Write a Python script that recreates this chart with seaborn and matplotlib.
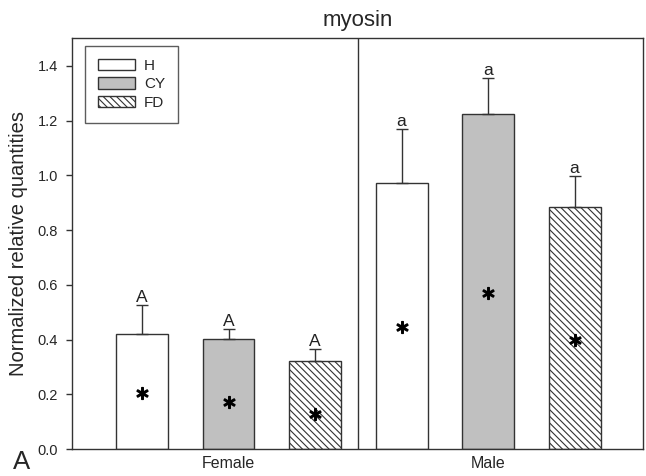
import numpy as np
import pandas as pd
import matplotlib
matplotlib.use("Agg")
import matplotlib.pyplot as plt
from matplotlib.patches import Patch
import seaborn as sns

# ---- data ----
sexes = ["Female", "Male"]
groups = ["H", "CY", "FD"]
female_means = [0.419, 0.402, 0.320]
male_means = [0.971, 1.224, 0.886]
female_err = [0.107, 0.037, 0.044]
male_err = [0.197, 0.131, 0.112]
female_letters = ["A", "A", "A"]
male_letters = ["a", "a", "a"]
female_star_y = [0.206, 0.173, 0.127]
male_star_y = [0.447, 0.569, 0.398]
yticks = [0.0, 0.2, 0.4, 0.6, 0.8, 1.0, 1.2, 1.4]

sns.set_theme(style="white")
plt.rcParams["font.family"] = ["Liberation Sans", "DejaVu Sans"]
plt.rcParams["hatch.linewidth"] = 0.8
plt.rcParams["hatch.color"] = "#222222"

rows = []
for sex, means in zip(sexes, [female_means, male_means]):
    for g, m in zip(groups, means):
        rows.append({"sex": sex, "group": g, "value": m})
df = pd.DataFrame(rows)

fig = plt.figure(figsize=(6.46, 4.76), dpi=100)
ax = fig.add_axes([0.1115, 0.0567, 0.9954 - 0.1115, 0.920 - 0.0567])

edge = "#333333"
colors = ["white", "#c0c0c0", "white"]
sns.barplot(data=df, x="sex", y="value", hue="group", order=sexes,
            hue_order=groups, palette=colors, edgecolor=edge, linewidth=1.0,
            width=1.0, gap=0.4, errorbar=None, legend=False, ax=ax,
            saturation=1)

bar_conts = list(ax.containers)
for bar in bar_conts[2]:
    bar.set_hatch("\\\\\\\\\\")

errs = {"Female": female_err, "Male": male_err}
letters = {"Female": female_letters, "Male": male_letters}
stars = {"Female": female_star_y, "Male": male_star_y}

for gi, cont in enumerate(bar_conts):
    for si, bar in enumerate(cont):
        sex = sexes[si]
        x = bar.get_x() + bar.get_width() / 2
        top = bar.get_height()
        e = errs[sex][gi]
        ax.errorbar([x], [top], yerr=[[0], [e]], fmt="none", ecolor=edge,
                    elinewidth=1.0, capsize=4.3, capthick=1.0, zorder=3)
        ax.annotate(letters[sex][gi], (x, top + e), xytext=(0, 0),
                    textcoords="offset points", ha="center", va="bottom",
                    fontsize=12.5, color="#222222")
        ax.plot([x], [stars[sex][gi]], marker=r"$\ast$", ms=8.5,
                color="black", linestyle="none", zorder=4)

ax.axvline(0.5, color=edge, lw=1.0)
ax.set_xlim(-0.603, 1.597)
ax.set_ylim(0, 1.502)
ax.set_yticks(yticks)
ax.set_yticklabels([f"{t:.1f}" for t in yticks], fontsize=10.5)
ax.tick_params(axis="y", direction="out", length=4, width=1, color=edge,
               left=True, pad=6)
ax.tick_params(axis="x", length=0, labelsize=11.5, pad=5)
ax.set_xlabel("")
ax.set_ylabel("Normalized relative quantities", fontsize=14.5, labelpad=7)
ax.set_title("myosin", fontsize=16, pad=9)
for sp in ax.spines.values():
    sp.set_color(edge)
    sp.set_linewidth(1.0)

handles = [Patch(facecolor="white", edgecolor=edge, label="H"),
           Patch(facecolor="#c0c0c0", edgecolor=edge, label="CY"),
           Patch(facecolor="white", edgecolor=edge, hatch="\\\\\\\\\\", label="FD")]
leg = ax.legend(handles=handles, loc="upper left",
                bbox_to_anchor=(0.0228, 0.9805), fontsize=11, frameon=True,
                fancybox=False, edgecolor=edge, handlelength=2.4,
                handleheight=0.75, labelspacing=0.28, borderpad=0.85,
                handletextpad=0.6, borderaxespad=0)
leg.get_frame().set_linewidth(1.0)

fig.text(13 / 646, 2 / 476, "A", fontsize=18.5, ha="left", va="bottom")

fig.savefig("out.png", dpi=100)
